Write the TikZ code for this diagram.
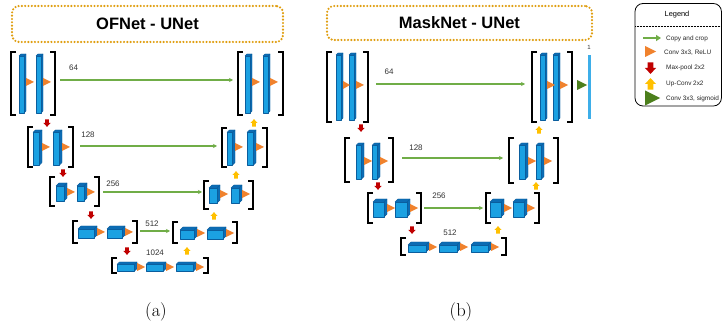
\documentclass[tikz,border=0pt]{standalone}
\usepackage{fontspec}
\newfontfamily\arial{Liberation Sans}
\usetikzlibrary{arrows.meta,calc}
\definecolor{fr}{HTML}{1BA1E2}
\definecolor{sd}{HTML}{0C6CB4}
\definecolor{edg}{HTML}{0A5E9E}
\definecolor{org}{HTML}{F0822D}
\definecolor{grn}{HTML}{70AD47}
\definecolor{dgrn}{HTML}{4C7F1C}
\definecolor{mpred}{HTML}{C00000}
\definecolor{yel}{HTML}{FFC000}
\definecolor{gold}{HTML}{E09E10}
\definecolor{ltb}{HTML}{3DAEE9}
\tikzset{
  grp/.style={inner sep=0pt, outer sep=0pt, draw=none},
  brkline/.style={line width=1.9pt, black},
  copy/.style={draw=grn, line width=1.1pt, -{Stealth[length=4pt,width=4pt]}},
  lbl/.style={font=\arial\fontsize{8}{9}\selectfont, text=black!80, inner sep=0pt},
  ttl/.style={draw=gold, line width=2.4pt, dash pattern=on 0pt off 3.3pt, line cap=round, rounded corners=7pt, font=\arial\bfseries\fontsize{16.5}{18}\selectfont, inner sep=0pt},
  leg/.style={font=\arial\fontsize{6.4}{7}\selectfont, anchor=west, inner sep=0pt, text=black!85},
  capt/.style={font=\fontsize{18.5}{20}\selectfont, inner sep=0pt},
}
% group node with brackets: name, x1, y1, x2, y2
\newcommand\grp[5]{%
  \node[grp, minimum width={#4-#2}, minimum height={#5-#3}] (#1) at ({(#2+#4)/2},{(#3+#5)/2}) {};
  \draw[brkline] ([xshift=5pt]#1.north west) -- (#1.north west) -- (#1.south west) -- ([xshift=5pt]#1.south west);
  \draw[brkline] ([xshift=-5pt]#1.north east) -- (#1.north east) -- (#1.south east) -- ([xshift=-5pt]#1.south east);}
% 3D block: [depth] x1 y1 x2 y2
\newcommand\blk[5][2]{%
  \fill[fr] ({#2},{#3+#1}) rectangle ({#4-#1},{#5});
  \fill[sd] ({#2},{#3+#1}) -- ({#2+#1},{#3}) -- ({#4},{#3}) -- ({#4},{#5-#1}) -- ({#4-#1},{#5}) -- ({#4-#1},{#3+#1}) -- cycle;
  \draw[edg, line width=0.4pt, line join=round] ({#2},{#3+#1}) rectangle ({#4-#1},{#5});
  \draw[edg, line width=0.4pt, line join=round] ({#2},{#3+#1}) -- ({#2+#1},{#3}) -- ({#4},{#3}) -- ({#4},{#5-#1}) -- ({#4-#1},{#5});
  \draw[edg, line width=0.4pt] ({#4-#1},{#3+#1}) -- ({#4},{#3});}
% orange triangle: x1 x2 yc
\newcommand\tri[3]{\fill[org] ({#1},{#3-4}) -- ({#2},{#3}) -- ({#1},{#3+4}) -- cycle;}
% block arrows: [scale] x y
\newcommand\dnar[3][1]{\fill[mpred, shift={(#2,#3)}, scale=#1] (-1.8,-3.6) -- (1.8,-3.6) -- (1.8,0) -- (3.6,0) -- (0,3.8) -- (-3.6,0) -- (-1.8,0) -- cycle;}
\newcommand\upar[3][1]{\fill[yel, shift={(#2,#3)}, scale=#1] (-1.8,3.6) -- (1.8,3.6) -- (1.8,0) -- (3.6,0) -- (0,-3.8) -- (-3.6,0) -- (-1.8,0) -- cycle;}
\begin{document}
\begin{tikzpicture}[x=1pt,y=-1pt]
\useasboundingbox (0,0) rectangle (722,328);
\fill[white] (0,0) rectangle (722,328);

% ================= (a) OFNet =================
\node[ttl, minimum width=271, minimum height=36] (tA) at (147.5,24) {OFNet - UNet};

% level 1
\grp{aL1}{11}{52}{55}{115}
\blk{19}{54}{26}{113} \blk{36}{54}{43}{113}
\tri{26}{34}{82} \tri{43}{51}{82}
\grp{aR1}{238}{52}{283}{115}
\blk{245}{54}{252}{113} \blk{263}{54}{270}{113}
\tri{252}{260}{82} \tri{270}{278}{82}
\draw[copy] ($(aL1.east)+(5,-3.5)$) -- ($(aR1.west |- aL1.east)+(-5,-3.5)$);
\node[lbl] (aN1) at (73.5,68) {64};
\dnar{47}{123} \upar{254}{123}

% level 2
\grp{aL2}{28}{127}{73}{167}
\blk[2.5]{33}{130}{42}{165} \blk[2.5]{53}{130}{62}{165}
\tri{42}{50}{147} \tri{62}{70}{147}
\grp{aR2}{222}{128}{267}{167}
\blk[2.5]{227}{130}{235}{165} \blk[2.5]{247}{130}{256}{165}
\tri{235}{243}{147} \tri{256}{264}{147}
\draw[copy] ($(aL2.east)+(7,-1)$) -- ($(aR2.west |- aL2.east)+(-5,-1)$);
\node[lbl] (aN2) at (88,135) {128};
\dnar{63}{173} \upar{236}{175}

% level 3
\grp{aL3}{50}{177}{99}{206}
\blk[3]{56}{183}{67}{201} \blk[3]{77}{183}{87}{201}
\tri{67}{75}{192} \tri{87}{95}{192}
\grp{aR3}{204}{181}{253}{209}
\blk[3]{209}{185}{220}{203} \blk[3]{231}{185}{242}{203}
\tri{220}{228}{194} \tri{242}{250}{194}
\draw[copy] ($(aL3.east)+(4,0.5)$) -- ($(aR3.west |- aL3.east)+(-2,0.5)$);
\node[lbl] (aN3) at (113,184) {256};
\dnar{91}{215} \upar{214}{216}

% level 4
\grp{aL4}{73}{221}{137}{243}
\blk[3]{78}{226}{97}{238} \blk[3]{107}{226}{125}{238}
\tri{97}{105}{232} \tri{125}{133}{232}
\grp{aR4}{173}{222}{237}{243}
\blk[3]{180}{227}{197}{239} \blk[3]{207}{227}{226}{239}
\tri{197}{205}{233} \tri{226}{234}{233}
\draw[copy] ($(aL4.east)+(3,-1)$) -- ($(aR4.west |- aL4.east)+(-3,-1)$);
\node[lbl] (aN4) at (152,224) {512};
\dnar{127}{251} \upar{187}{251}

% level 5
\grp{aL5}{112}{258}{208}{273}
\blk[2.5]{117}{262}{137}{271} \blk[2.5]{146}{262}{166}{271} \blk[2.5]{176}{262}{196}{271}
\tri{137}{145}{267} \tri{166}{174}{267} \tri{196}{204}{267}
\node[lbl] (aN5) at (155,253) {1024};

\node[capt] (capA) at (156,312) {(a)};

% ================= (b) MaskNet =================
\node[ttl, minimum width=265, minimum height=34] (tB) at (459.5,23) {MaskNet - UNet};

% level 1
\grp{bL1}{327}{52}{368}{122}
\blk{336}{53}{343}{120} \blk{349}{53}{356}{120}
\tri{343}{350}{85} \tri{356}{364}{85}
\grp{bR1}{532}{52}{572}{122}
\blk{540}{53}{547}{120} \blk{553}{53}{560}{120}
\tri{547}{555}{85} \tri{560}{568}{85}
\fill[dgrn] (577,80) -- (587,85) -- (577,90) -- cycle;
\fill[ltb] (587.5,55) rectangle (591,119);
\node[lbl, font=\arial\fontsize{6}{7}\selectfont] (bOut) at (589,47) {1};
\draw[copy] ($(bL1.east)+(8,-3)$) -- ($(bR1.west |- bL1.east)+(-7,-3)$);
\node[lbl] (bN1) at (389,72) {64};
\dnar{361}{128} \upar{539}{130}

% level 2
\grp{bL2}{345}{138}{393}{182}
\blk[2.5]{356}{143}{364}{179} \blk[2.5]{372}{143}{380}{179}
\tri{364}{372}{161} \tri{380}{388}{161}
\grp{bR2}{509}{138}{558}{183}
\blk[2.5]{519}{143}{528}{179} \blk[2.5]{536}{143}{544}{179}
\tri{528}{536}{161} \tri{544}{552}{161}
\draw[copy] ($(bL2.east)+(9,-2)$) -- ($(bR2.west |- bL2.east)+(-6,-2)$);
\node[lbl] (bN2) at (416,148) {128};
\dnar{378}{186} \upar{536}{186}

% level 3
\grp{bL3}{368}{193}{421}{223}
\blk[3]{373}{199}{387}{217} \blk[3]{395}{199}{410}{217}
\tri{387}{395}{208} \tri{410}{418}{208}
\grp{bR3}{486}{193}{539}{223}
\blk[3]{490}{199}{504}{217} \blk[3]{513}{199}{527}{217}
\tri{504}{512}{208} \tri{527}{535}{208}
\draw[copy] ($(bL3.east)+(3,0)$) -- ($(bR3.west |- bL3.east)+(-3,0)$);
\node[lbl] (bN3) at (439,196) {256};
\dnar{412}{230} \upar{498}{230}

% level 4
\grp{bL4}{401}{238}{506}{255}
\blk[3]{408}{242}{429}{252} \blk[3]{439}{242}{460}{252} \blk[3]{471}{242}{491}{252}
\tri{429}{437}{247} \tri{460}{468}{247} \tri{491}{499}{247}
\node[lbl] (bN4) at (450,233) {512};

\node[capt] (capB) at (461,312) {(b)};

% ================= Legend =================
\draw[black, line width=0.8pt, rounded corners=8pt] (635,3.5) rectangle (721.4,106);
\node[inner sep=0pt, font=\arial\fontsize{7.4}{8}\selectfont] (lgT) at (677,14.5) {Legend};
\draw[black, line width=0.6pt, dash pattern=on 0.6pt off 0.9pt] (635,26) -- (722,26);
\coordinate (lgA1) at (643,38);
\coordinate (lgA2) at (661,38);
\draw[grn, line width=1.6pt, -{Triangle[length=5pt,width=6pt]}] (lgA1) -- (lgA2);
\node[leg] (lg1) at (666,38.5) {Copy and crop};
\fill[org] (645,46) -- (656,51.5) -- (645,57) -- cycle;
\node[leg] (lg2) at (664,52.5) {Conv 3x3, ReLU};
\dnar[1.55]{650.5}{68}
\node[leg] (lg3) at (666,67.5) {Max-pool 2x2};
\upar[1.55]{650.5}{84}
\node[leg] (lg4) at (666,84) {Up-Conv 2x2};
\fill[dgrn] (645,90.5) -- (660,98) -- (645,105.5) -- cycle;
\node[leg] (lg5) at (666,98.5) {Conv 3x3, sigmoid};
\end{tikzpicture}
\end{document}
